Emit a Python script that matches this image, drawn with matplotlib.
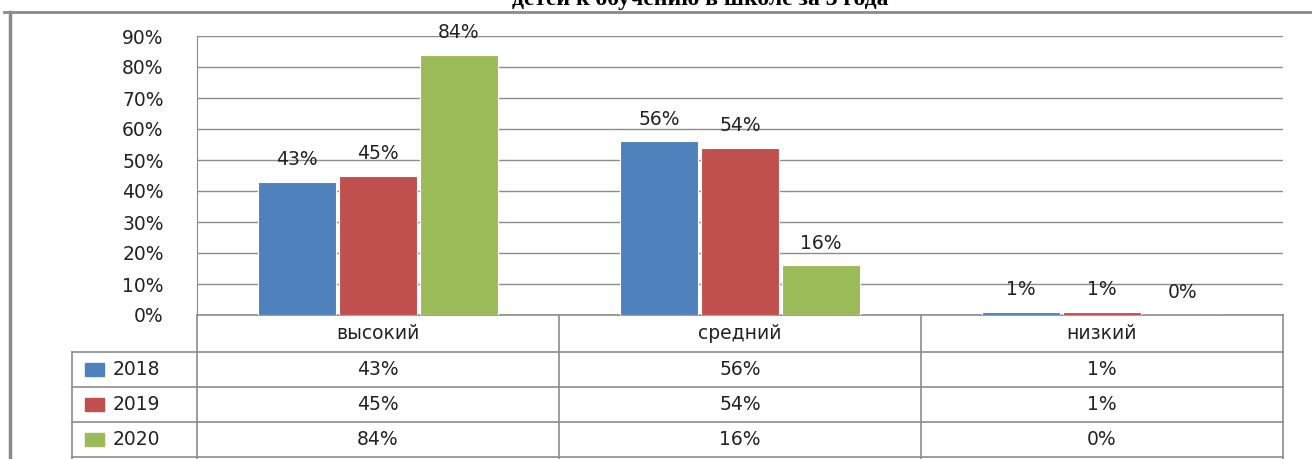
import matplotlib.pyplot as plt
from matplotlib.lines import Line2D
from matplotlib.patches import Rectangle
import matplotlib.transforms as mtransforms

# data
categories = ['высокий', 'средний', 'низкий']
years = ['2018', '2019', '2020']
v2018 = [43, 56, 1]
v2019 = [45, 54, 1]
v2020 = [84, 16, 0]
series = [v2018, v2019, v2020]
colors = ['#4F81BD', '#C0504D', '#9BBB59']
title = 'детей к обучению в школе за 3 года'

plt.rcParams['font.family'] = ['DejaVu Sans']
W, H = 1312, 459
fig = plt.figure(figsize=(W / 100, H / 100), dpi=100)
ax = fig.add_axes([197 / W, 1 - 315 / H, (1283 - 197) / W, (315 - 36) / H])

grid_c = '#8c8c8c'
bw = 0.215
x = range(len(categories))
for i, (vals, c) in enumerate(zip(series, colors)):
    xs = [k + (i - 1) * (bw + 0.008) for k in x]
    bars = ax.bar(xs, vals, width=bw, color=c, edgecolor='white', linewidth=0.8, zorder=3)
    for b, v in zip(bars, vals):
        ax.annotate(f'{v}%', (b.get_x() + b.get_width() / 2, v), xytext=(0, 16),
                    textcoords='offset points', ha='center', va='center',
                    fontsize=13.5, color='#222222')

ax.set_xlim(-0.5, 2.5)
ax.set_ylim(0, 90)
ax.set_yticks(range(0, 91, 10))
ax.set_yticklabels([f'{t}%' for t in range(0, 91, 10)], fontsize=13.5, color='#222222')
ax.tick_params(axis='y', length=0, pad=24)
ax.set_xticks([])
ax.yaxis.grid(True, color=grid_c, linewidth=1)
ax.set_axisbelow(True)
for s in ['top', 'right']:
    ax.spines[s].set_visible(False)
ax.spines['left'].set_color(grid_c)
ax.spines['bottom'].set_color(grid_c)
ax.spines['bottom'].set_linewidth(1.2)

# data table under the chart
tr = mtransforms.blended_transform_factory(ax.transData, ax.transAxes)
px = lambda p: -(p - 315) / 279
xleft = (72 - 197) / 362 - 0.5
row_lines = [px(352), px(387), px(422), px(457)]
for y in row_lines:
    ax.add_line(Line2D([xleft, 2.5], [y, y], transform=tr, color=grid_c,
                       linewidth=1.2, clip_on=False))
for xv in [-0.5, 0.5, 1.5, 2.5]:
    ax.add_line(Line2D([xv, xv], [0, -0.53], transform=tr, color=grid_c,
                       linewidth=1.2, clip_on=False))
ax.add_line(Line2D([xleft, xleft], [px(352), -0.53], transform=tr, color=grid_c,
                   linewidth=1.2, clip_on=False))

for k, cat in enumerate(categories):
    ax.text(k, px(333.5), cat, transform=tr, ha='center', va='center',
            fontsize=13.5, color='#222222')
row_y = [px(369.5), px(404.5), px(439.5)]
for yr, vals, c, ry in zip(years, series, colors, row_y):
    ax.add_patch(Rectangle(((85 - 197) / 362 - 0.5, ry - 0.022), 19 / 362, 0.044,
                           transform=tr, color=c, clip_on=False))
    ax.text((113 - 197) / 362 - 0.5, ry, yr, transform=tr, ha='left', va='center',
            fontsize=13.5, color='#222222')
    for k, v in enumerate(vals):
        ax.text(k, ry, f'{v}%', transform=tr, ha='center', va='center',
                fontsize=13.5, color='#222222')

# outer frame and cut-off title
fig.add_artist(Line2D([10 / W, 10 / W], [0, 1 - 12 / H], color='#8a8a8a', linewidth=2.5))
fig.add_artist(Line2D([4 / W, 1], [1 - 12 / H, 1 - 12 / H], color='#8a8a8a', linewidth=2))
fig.text(700 / W, 1 - 5 / H, title, ha='center', va='baseline', fontsize=17,
         fontweight='bold', family=['Liberation Serif'])

fig.savefig('out.png', dpi=100)
